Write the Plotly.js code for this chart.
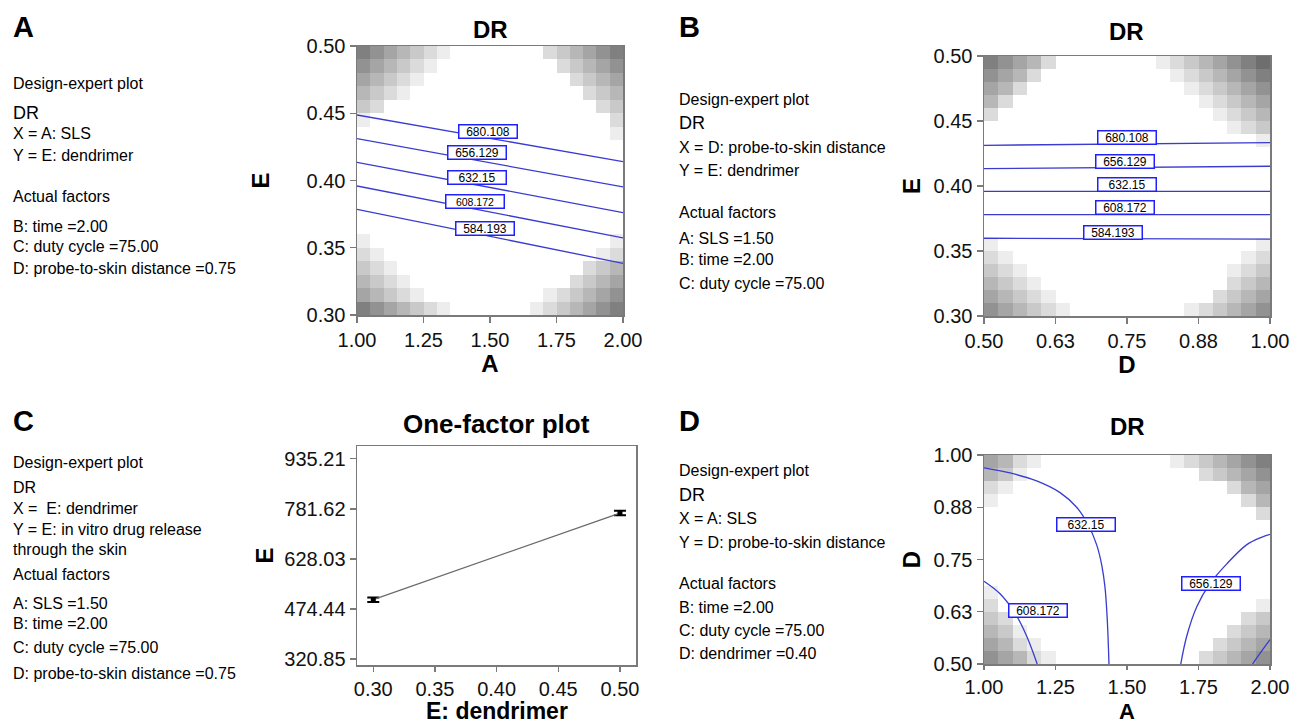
<!DOCTYPE html>
<html>
<head>
<meta charset="utf-8">
<script src="https://cdn.plot.ly/plotly-3.0.1.min.js"></script>
<style>html,body{margin:0;padding:0;background:#fff;}#chart{width:1290px;height:725px;}</style>
</head>
<body>
<div id="chart"></div>
<script>
// ---------------- DATA ----------------
const contourLevels = ['680.108', '656.129', '632.15', '608.172', '584.193'];

// Panel A (X = A: SLS, Y = E: dendrimer) contour lines, endpoints
const aLineX = [1.0, 2.0];
const aLineY = [
  [0.4487, 0.4140],
  [0.4311, 0.3952],
  [0.4135, 0.3761],
  [0.3959, 0.3573],
  [0.3786, 0.3384]
];

// Panel B (X = D: probe-to-skin distance, Y = E: dendrimer)
const bLineX = [0.5, 1.0];
const bLineY = [
  [0.4313, 0.4334],
  [0.4134, 0.4152],
  [0.3959, 0.3959],
  [0.3780, 0.3780],
  [0.3598, 0.3592]
];

// Panel C one-factor plot
const cX = [0.30, 0.50];
const cY = [503, 769];
const cErr = [7, 7];
const cTickVals = [320.85, 474.44, 628.03, 781.62, 935.21];
const cTickText = ['320.85', '474.44', '628.03', '781.62', '935.21'];
const cXTicks = [0.30, 0.35, 0.40, 0.45, 0.50];
const cXText = ['0.30', '0.35', '0.40', '0.45', '0.50'];

// Panel D (X = A: SLS, Y = D: probe-to-skin distance) curved contours
const d632X = [1.000, 1.091, 1.184, 1.266, 1.324, 1.365, 1.394, 1.411, 1.423, 1.431, 1.437];
const d632Y = [0.969, 0.957, 0.938, 0.910, 0.875, 0.832, 0.785, 0.739, 0.684, 0.606, 0.500];
const d608X = [1.000, 1.056, 1.108, 1.149, 1.186];
const d608Y = [0.698, 0.668, 0.622, 0.567, 0.500];
const d656X = [1.688, 1.709, 1.744, 1.790, 1.848, 1.918, 1.970, 2.000];
const d656Y = [0.500, 0.567, 0.637, 0.692, 0.739, 0.785, 0.803, 0.810];
const d680X = [1.939, 1.970, 2.000];
const d680Y = [0.500, 0.530, 0.558];

// Axis tick labels
const abXTicksA = [1.00, 1.25, 1.50, 1.75, 2.00];
const abXTextA = ['1.00', '1.25', '1.50', '1.75', '2.00'];
const eTicks = [0.30, 0.35, 0.40, 0.45, 0.50];
const eText = ['0.30', '0.35', '0.40', '0.45', '0.50'];
const dTicks = [0.50, 0.625, 0.75, 0.875, 1.00];
const dText = ['0.50', '0.63', '0.75', '0.88', '1.00'];

// Grey design-space shading (levels 0-9), rows listed top to bottom
const shadeA = [
  '76543210000000234567',
  '65432100000000023456',
  '54321000000000002345',
  '43210000000000000234',
  '32000000000000000023',
  '10000000000000000002',
  '00000000000000000001',
  '00000000000000000000',
  '00000000000000000000',
  '00000000000000000000',
  '00000000000000000000',
  '00000000000000000000',
  '00000000000000000000',
  '00000000000000000000',
  '10000000000000000001',
  '21000000000000000012',
  '32100000000000000234',
  '43210000000000002345',
  '54321000000000123456',
  '76543210000001234567'
];
const shadeB = [
  '76542000000012345678',
  '65420000000001234567',
  '54200000000000123456',
  '42000000000000012345',
  '20000000000000001234',
  '00000000000000000123',
  '00000000000000000001',
  '00000000000000000000',
  '00000000000000000000',
  '00000000000000000000',
  '00000000000000000000',
  '00000000000000000000',
  '00000000000000000000',
  '00000000000000000000',
  '10000000000000000001',
  '21000000000000000012',
  '32100000000000000123',
  '43210000000000000234',
  '54321000000000002345',
  '65432100000000123456'
];
const shadeD = [
  '54210000000001234567',
  '43100000000000023456',
  '21000000000000000245',
  '10000000000000000024',
  '00000000000000000002',
  '00000000000000000000',
  '00000000000000000000',
  '00000000000000000000',
  '00000000000000000000',
  '00000000000000000000',
  '10000000000000000000',
  '20000000000000000001',
  '32000000000000000023',
  '43100000000000000234',
  '54210000000000002345',
  '65421000000000023456'
];

// ---------------- BUILD ----------------
const W = 1290, H = 725;
const FONT = 'Liberation Sans, Arial, Helvetica, sans-serif';
const LINE_BLUE = '#3b3bd0';
const LABEL_BLUE = '#2020ff';
const FRAME = '#7a7a7a';
const SIDE = 16;

function domX(a, b) { return [a / W, b / W]; }
function domY(top, bottom) { return [1 - bottom / H, 1 - top / H]; }
function toZ(rows) { return rows.slice().reverse().map(r => r.split('').map(Number)); }

const shadeScale = [[0, '#ffffff'], [1, '#4a4a4a']];

function heat(rows, xa, ya, x0, x1, y0, y1) {
  const z = toZ(rows);
  const nr = z.length, nc = z[0].length;
  const ddx = (x1 - x0) / nc, ddy = (y1 - y0) / nr;
  return {
    type: 'heatmap', z: z, x0: x0 + ddx / 2, dx: ddx, y0: y0 + ddy / 2, dy: ddy,
    colorscale: shadeScale, zmin: 0, zmax: 10, showscale: false, zsmooth: false,
    hoverinfo: 'skip', xaxis: xa, yaxis: ya
  };
}

const traces = [];
traces.push(heat(shadeA, 'x', 'y', 1, 2, 0.3, 0.5));
traces.push(heat(shadeB, 'x2', 'y2', 0.5, 1, 0.3, 0.5));
traces.push(heat(shadeD, 'x4', 'y4', 1, 2, 0.5, 1));

aLineY.forEach((ys, i) => traces.push({
  type: 'scatter', mode: 'lines', x: aLineX, y: ys, name: contourLevels[i],
  line: { color: LINE_BLUE, width: 1.3 }, xaxis: 'x', yaxis: 'y', hoverinfo: 'skip', showlegend: false
}));
bLineY.forEach((ys, i) => traces.push({
  type: 'scatter', mode: 'lines', x: bLineX, y: ys, name: contourLevels[i],
  line: { color: LINE_BLUE, width: 1.3 }, xaxis: 'x2', yaxis: 'y2', hoverinfo: 'skip', showlegend: false
}));
[[d632X, d632Y], [d608X, d608Y], [d656X, d656Y], [d680X, d680Y]].forEach(p => traces.push({
  type: 'scatter', mode: 'lines', x: p[0], y: p[1], line: { color: LINE_BLUE, width: 1.3, shape: 'spline' },
  xaxis: 'x4', yaxis: 'y4', hoverinfo: 'skip', showlegend: false
}));
traces.push({
  type: 'scatter', mode: 'lines+markers', x: cX, y: cY,
  line: { color: '#6a6a6a', width: 1.3 },
  marker: { symbol: 'square', size: 5, color: '#000' },
  error_y: { type: 'data', array: cErr, visible: true, color: '#000', thickness: 2, width: 6 },
  xaxis: 'x3', yaxis: 'y3', hoverinfo: 'skip', showlegend: false
});

function axis(extra) {
  return Object.assign({
    showline: true, mirror: true, linecolor: FRAME, linewidth: 1.5,
    ticks: 'outside', ticklen: 6, tickwidth: 1.2, tickcolor: FRAME,
    showgrid: false, zeroline: false, fixedrange: true, automargin: false,
    tickfont: { family: FONT, size: 20, color: '#111' }
  }, extra);
}
function atitle(t, standoff, size) {
  return { text: '<b>' + t + '</b>', font: { family: FONT, size: size || 24, color: '#000' }, standoff: standoff };
}

const layout = {
  width: W, height: H, margin: { l: 0, r: 0, t: 0, b: 0 },
  paper_bgcolor: '#fff', plot_bgcolor: '#fff', showlegend: false,
  font: { family: FONT, color: '#000' },
  xaxis: axis({ domain: domX(357, 623), anchor: 'y', range: [1, 2], tickvals: abXTicksA, ticktext: abXTextA, title: atitle('A', 2) }),
  yaxis: axis({ domain: domY(46, 315), anchor: 'x', range: [0.3, 0.5], tickvals: eTicks, ticktext: eText, title: atitle('E', 30) }),
  xaxis2: axis({ domain: domX(984, 1270), anchor: 'y2', range: [0.5, 1], tickvals: dTicks, ticktext: dText, title: atitle('D', 2) }),
  yaxis2: axis({ domain: domY(56, 316), anchor: 'x2', range: [0.3, 0.5], tickvals: eTicks, ticktext: eText, title: atitle('E', 6) }),
  xaxis3: axis({ domain: domX(357, 636), anchor: 'y3', range: [0.2868, 0.513], tickvals: cXTicks, ticktext: cXText, ticklen: 5 }),
  yaxis3: axis({ domain: domY(446, 665), anchor: 'x3', range: [302.6, 974.7], tickvals: cTickVals, ticktext: cTickText, title: atitle('E', 4) }),
  xaxis4: axis({ domain: domX(984, 1270), anchor: 'y4', range: [1, 2], tickvals: abXTicksA, ticktext: abXTextA, ticklen: 4 }),
  yaxis4: axis({ domain: domY(455, 664), anchor: 'x4', range: [0.5, 1], tickvals: dTicks, ticktext: dText, title: atitle('D', 6) }),
  annotations: []
};

const ann = layout.annotations;
function ptext(text, px, py, size, opts) {
  ann.push(Object.assign({
    text: text, xref: 'paper', yref: 'paper', x: px / W, y: 1 - py / H,
    xanchor: 'left', yanchor: 'middle', showarrow: false,
    font: { family: FONT, size: size, color: '#000' }
  }, opts || {}));
}
function title(text, cx, cy, size) {
  ptext('<b>' + text + '</b>', cx, cy, size, { xanchor: 'center' });
}
function clabel(text, xa, ya, x, y, size) {
  ann.push({
    text: text, xref: xa, yref: ya, x: x, y: y, showarrow: false,
    xanchor: 'center', yanchor: 'middle', width: 57, height: 12,
    bgcolor: '#ffffff', bordercolor: LABEL_BLUE, borderwidth: 1.5, borderpad: 0,
    font: { family: FONT, size: size || 12, color: '#000' }
  });
}

// Bottom-row x-axis titles (placed as text at the bottom edge)
ptext('<b>E: dendrimer</b>', 497, 725, 23, { xanchor: 'center', yanchor: 'bottom', y: 0, borderpad: 0 });
ptext('<b>A</b>', 1127, 725, 22, { xanchor: 'center', yanchor: 'bottom', y: 0, borderpad: 0 });

// Panel letters
ptext('<b>A</b>', 11, 27, 29);
ptext('<b>B</b>', 677, 27, 29);
ptext('<b>C</b>', 11, 421, 29);
ptext('<b>D</b>', 677, 421, 29);

// Subplot titles
title('DR', 490, 30, 24);
title('DR', 1126, 31, 24);
title('One-factor plot', 497, 424, 26);
title('DR', 1127, 426, 24);

const LX = 11, RX = 677;
// Left-side text, panel A
ptext('Design-expert plot', LX, 83, SIDE);
ptext('DR', LX, 113, 18);
ptext('X = A: SLS', LX, 133, SIDE);
ptext('Y = E: dendrimer', LX, 155, SIDE);
ptext('Actual factors', LX, 197, SIDE);
ptext('B: time =2.00', LX, 226, SIDE);
ptext('C: duty cycle =75.00', LX, 246, SIDE);
ptext('D: probe-to-skin distance =0.75', LX, 268, SIDE);

// Panel B
ptext('Design-expert plot', RX, 99, SIDE);
ptext('DR', RX, 123, 18);
ptext('X = D: probe-to-skin distance', RX, 147, SIDE);
ptext('Y = E: dendrimer', RX, 170, SIDE);
ptext('Actual factors', RX, 212, SIDE);
ptext('A: SLS =1.50', RX, 239, SIDE);
ptext('B: time =2.00', RX, 259, SIDE);
ptext('C: duty cycle =75.00', RX, 283, SIDE);

// Panel C
ptext('Design-expert plot', LX, 462, SIDE);
ptext('DR', LX, 487, SIDE);
ptext('X =  E: dendrimer', LX, 508, SIDE);
ptext('Y = E: in vitro drug release', LX, 529, SIDE);
ptext('through the skin', LX, 549, SIDE);
ptext('Actual factors', LX, 574, SIDE);
ptext('A: SLS =1.50', LX, 603, SIDE);
ptext('B: time =2.00', LX, 623, SIDE);
ptext('C: duty cycle =75.00', LX, 647, SIDE);
ptext('D: probe-to-skin distance =0.75', LX, 673, SIDE);

// Panel D
ptext('Design-expert plot', RX, 470, SIDE);
ptext('DR', RX, 495, 18);
ptext('X = A: SLS', RX, 518, SIDE);
ptext('Y = D: probe-to-skin distance', RX, 542, SIDE);
ptext('Actual factors', RX, 583, SIDE);
ptext('B: time =2.00', RX, 607, SIDE);
ptext('C: duty cycle =75.00', RX, 630, SIDE);
ptext('D: dendrimer =0.40', RX, 653, SIDE);

// Contour labels
clabel(contourLevels[0], 'x', 'y', 1.491, 0.4363);
clabel(contourLevels[1], 'x', 'y', 1.451, 0.4207);
clabel(contourLevels[2], 'x', 'y', 1.451, 0.4019);
clabel(contourLevels[3], 'x', 'y', 1.442, 0.3845, 10.5);
clabel(contourLevels[4], 'x', 'y', 1.482, 0.3644);

clabel(contourLevels[0], 'x2', 'y2', 0.7495, 0.4375);
clabel(contourLevels[1], 'x2', 'y2', 0.747, 0.4190);
clabel(contourLevels[2], 'x2', 'y2', 0.7495, 0.4013);
clabel(contourLevels[3], 'x2', 'y2', 0.747, 0.3831);
clabel(contourLevels[4], 'x2', 'y2', 0.726, 0.3641);

clabel(contourLevels[2], 'x4', 'y4', 1.356, 0.834);
clabel(contourLevels[1], 'x4', 'y4', 1.793, 0.692);
clabel(contourLevels[3], 'x4', 'y4', 1.190, 0.628);

Plotly.newPlot('chart', traces, layout, { displayModeBar: false, staticPlot: true });
</script>
</body>
</html>
